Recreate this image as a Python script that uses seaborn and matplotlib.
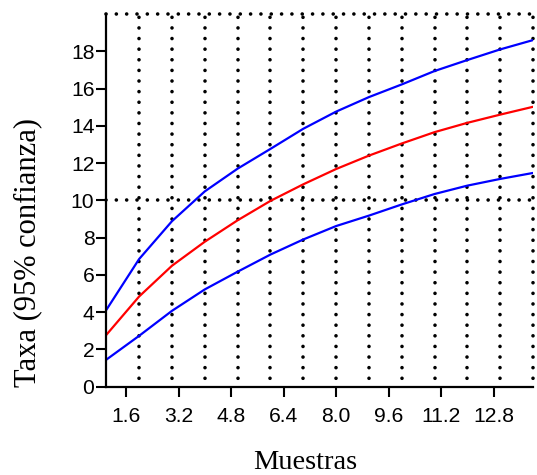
import matplotlib
matplotlib.use("Agg")
import matplotlib.pyplot as plt
from matplotlib.ticker import FixedLocator
import numpy as np
import pandas as pd
import seaborn as sns

# Rarefaction curve: expected taxa per number of samples, with 95% bounds
muestras = list(range(1, 15))
taxa_media = [2.78, 4.84, 6.49, 7.78, 8.93, 9.97, 10.86, 11.68, 12.40, 13.05, 13.66, 14.16, 14.60, 15.02]
taxa_sup = [4.12, 6.85, 8.88, 10.48, 11.70, 12.76, 13.84, 14.76, 15.54, 16.22, 16.94, 17.53, 18.10, 18.60]
taxa_inf = [1.45, 2.73, 4.07, 5.22, 6.17, 7.09, 7.90, 8.62, 9.18, 9.78, 10.34, 10.79, 11.15, 11.47]

xticks = [1.6, 3.2, 4.8, 6.4, 8.0, 9.6, 11.2, 12.8]
yticks = list(range(0, 20, 2))
grid_x = list(range(2, 15))
grid_y = [10, 20]

df = pd.DataFrame({
    "Muestras": muestras * 3,
    "Taxa": taxa_sup + taxa_media + taxa_inf,
    "serie": ["sup"] * len(muestras) + ["media"] * len(muestras) + ["inf"] * len(muestras),
})

sns.set_style("ticks")
plt.rcParams["font.family"] = ["Liberation Sans", "DejaVu Sans"]

fig = plt.figure(figsize=(5.37, 4.75), dpi=100)
ax = fig.add_axes([106.3 / 537, 1 - 386.7 / 475, (533 - 106.3) / 537, (386.7 - 14) / 475])

sns.lineplot(
    data=df, x="Muestras", y="Taxa", hue="serie",
    palette={"sup": "#0000ff", "media": "#ff0000", "inf": "#0000ff"},
    linewidth=1.6, legend=False, estimator=None, ax=ax,
)

ax.set_xlim(1, 14)
ax.set_ylim(0, 20)

ax.set_xticks(xticks)
ax.set_xticklabels([f"{v:.1f}" for v in xticks])
ax.set_yticks(yticks)
ax.set_yticklabels([str(v) for v in yticks])

# dotted reference grid on minor locations
ax.xaxis.set_minor_locator(FixedLocator(grid_x))
ax.yaxis.set_minor_locator(FixedLocator(grid_y))
ax.xaxis.remove_overlapping_locs = False
ax.yaxis.remove_overlapping_locs = False
ax.grid(False, which="major")
ax.xaxis.grid(True, which="minor", color="black", linewidth=2.6,
              linestyle=(0.53, (0.01, 2.93)), dash_capstyle="round", clip_on=False)
ax.yaxis.grid(True, which="minor", color="black", linewidth=2.6,
              linestyle=(0, (0.01, 2.85)), dash_capstyle="round", clip_on=False)

ax.tick_params(axis="both", which="major", direction="out", length=7, width=1.5,
               color="black", labelsize=15.2, labelcolor="black")
ax.tick_params(axis="x", which="major", pad=7.5)
ax.tick_params(axis="y", which="major", pad=1.5)
ax.tick_params(axis="both", which="minor", length=0)

for side in ("top", "right"):
    ax.spines[side].set_visible(False)
for side in ("left", "bottom"):
    ax.spines[side].set_linewidth(1.6)
    ax.spines[side].set_color("black")

ax.set_xlabel("Muestras", fontsize=20.5, family="Liberation Serif", va="baseline", color="black")
ax.xaxis.set_label_coords(0.467, -0.2216)
ax.set_ylabel("Taxa (95% confianza)", fontsize=22, family="Liberation Serif", va="center", color="black")
ax.yaxis.set_label_coords(-0.1835, 0.36)

fig.savefig("out.png", dpi=100)
